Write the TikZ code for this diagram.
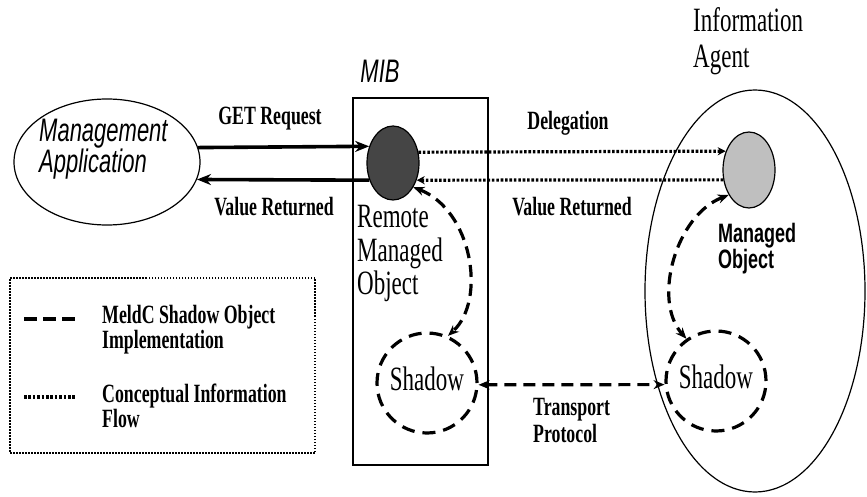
\documentclass[tikz,border=0pt]{standalone}
\usepackage{fontspec}
\setmainfont{Liberation Serif}
\setsansfont{Liberation Sans}
\usetikzlibrary{shapes.geometric,arrows.meta}

\begin{document}
\begin{tikzpicture}[x=1pt,y=-1pt,
  txt/.style={inner sep=0pt, yscale=1.48},
  plain/.style={txt, font=\fontsize{23}{26}\selectfont},
  boldlbl/.style={txt, font=\bfseries\fontsize{17.8}{20}\selectfont},
  sansit/.style={txt, font=\sffamily\itshape\fontsize{22}{25}\selectfont},
  sansbf/.style={txt, font=\sffamily\bfseries\fontsize{18}{20}\selectfont},
  oval/.style={ellipse, draw, line width=1.2pt, inner sep=0pt},
  shadowring/.style={circle, draw, line width=3.2pt, dash pattern=on 13pt off 8pt,
    minimum size=100pt, inner sep=0pt},
  callflow/.style={line width=3.6pt, -{Stealth[length=14pt,width=11pt]}},
  conceptual/.style={line width=3.2pt, dash pattern=on 2.6pt off 1.8pt,
    -{Stealth[length=8pt,width=8pt]}},
  shadowlink/.style={line width=3.2pt, dash pattern=on 12pt off 7pt,
    {Stealth[length=11pt,width=9pt]}-{Stealth[length=11pt,width=9pt]}}
]
\useasboundingbox (0,0) rectangle (867,497);

% management side
\node[oval, minimum width=186pt, minimum height=126pt] (mgmt) at (107,162) {};
\node[sansit, anchor=base west] (mgmt1) at (39,142) {Management};
\node[sansit, anchor=base west] (mgmt2) at (39,173) {Application};

% MIB with the remote managed object and its shadow
\node[sansit, anchor=base] (mibtxt) at (380,83) {MIB};
\node[draw, line width=1.4pt, minimum width=135pt, minimum height=367pt, inner sep=0pt]
  (mib) at (420.5,281.5) {};
\node[oval, fill=black!73, minimum width=52pt, minimum height=74pt] (rmo) at (393,163) {};
\node[plain, anchor=base west] (rmo1) at (357,227) {Remote};
\node[plain, anchor=base west] (rmo2) at (357,261) {Managed};
\node[plain, anchor=base west] (rmo3) at (357,294) {Object};
\node[shadowring] (lsh) at (427,383) {};
\node[plain, anchor=base] (lshtxt) at (427,390) {Shadow};

% information agent with the managed object and its shadow
\node[oval, minimum width=220pt, minimum height=402pt] (agent) at (755,291) {};
\node[plain, anchor=base west] (ag1) at (693,32) {Information};
\node[plain, anchor=base west] (ag2) at (693,68) {Agent};
\node[oval, fill=black!25, minimum width=52pt, minimum height=76pt] (mo) at (749,170) {};
\node[sansbf, anchor=base west] (mo1) at (718,242) {Managed};
\node[sansbf, anchor=base west] (mo2) at (718,268) {Object};
\node[shadowring] (rsh) at (716,381) {};
\node[plain, anchor=base] (rshtxt) at (716,388) {Shadow};

% request and reply between application and MIB
\draw[callflow] (mgmt.9.4) -- (rmo.145.6);
\draw[callflow] (rmo.216.4) -- (mgmt.-11.4);
\node[boldlbl, anchor=base] (getlbl) at (270,125) {GET Request};
\node[boldlbl, anchor=base] (retlbl) at (274,215) {Value Returned};

% conceptual flow between remote object and managed object
\draw[conceptual] (rmo.23.9) -- (mo.141.8);
\draw[conceptual] (mo.201.7) -- (rmo.-36.4);
\node[boldlbl, anchor=base] (dellbl) at (568,130) {Delegation};
\node[boldlbl, anchor=base] (ret2lbl) at (572,215) {Value Returned};

% shadow object implementation
\draw[shadowlink] (rmo.-50) .. controls (472,210) and (487,300) .. (lsh.66.5);
\draw[shadowlink] (mo.231.6) .. controls (676,215) and (652,300) .. (rsh.125);
\draw[shadowlink] (lsh.-2) -- (rsh.184.6);
\node[boldlbl, anchor=base west] (tp1) at (533,415) {Transport};
\node[boldlbl, anchor=base west] (tp2) at (533,442) {Protocol};

% legend
\node[draw, line width=1.1pt, dash pattern=on 1.5pt off 1.5pt, minimum width=305pt,
  minimum height=175pt, inner sep=0pt] (legend) at (162.5,365.5) {};
\coordinate (ld1) at (24,319);
\coordinate (ld2) at (75,319);
\coordinate (lt1) at (24,397);
\coordinate (lt2) at (75,397);
\draw[line width=3.2pt, dash pattern=on 13pt off 6pt] (ld1) -- (ld2);
\draw[line width=3.2pt, dash pattern=on 2.6pt off 1.8pt] (lt1) -- (lt2);
\node[boldlbl, anchor=base west] (lg1) at (102,323) {MeldC Shadow Object};
\node[boldlbl, anchor=base west] (lg2) at (102,348) {Implementation};
\node[boldlbl, anchor=base west] (lg3) at (102,402) {Conceptual Information};
\node[boldlbl, anchor=base west] (lg4) at (102,427) {Flow};
\end{tikzpicture}
\end{document}
